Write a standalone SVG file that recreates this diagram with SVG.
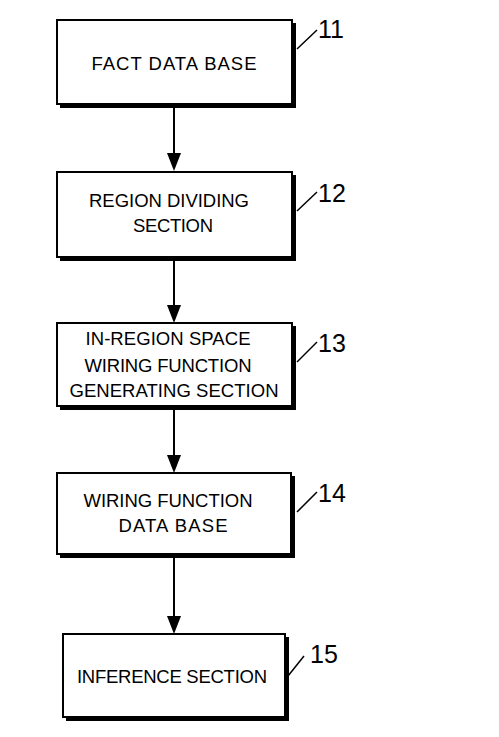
<svg xmlns="http://www.w3.org/2000/svg" width="499" height="737" viewBox="0 0 499 737">
<style>
.sh{fill:#000}
.bx{fill:#fff;stroke:#000;stroke-width:2}
.t{font-family:"Liberation Sans",Arial,sans-serif;font-size:18.5px;fill:#000;text-anchor:middle}
.n{font-family:"Liberation Sans",Arial,sans-serif;font-size:25px;fill:#000}
.ld{stroke:#000;stroke-width:1.5;fill:none}
.ar{stroke:#000;stroke-width:2;fill:none}
.hd{fill:#000}
</style>
<rect width="499" height="737" fill="#fff"/>
<g id="connectors">
<line class="ar" x1="174" y1="107" x2="174" y2="153"/>
<path class="hd" d="M167,153 L181,153 L174,171 Z"/>
<line class="ar" x1="174" y1="260" x2="174" y2="305"/>
<path class="hd" d="M167,305 L181,305 L174,323 Z"/>
<line class="ar" x1="174" y1="410" x2="174" y2="455"/>
<path class="hd" d="M167,455 L181,455 L174,473 Z"/>
<line class="ar" x1="174" y1="558" x2="174" y2="616"/>
<path class="hd" d="M167,616 L181,616 L174,634 Z"/>
</g>
<g id="node11">
<rect class="sh" x="60" y="23" width="236" height="85"/>
<rect class="bx" x="57" y="20" width="235" height="84"/>
<text class="t" x="174" y="70" textLength="165" lengthAdjust="spacing">FACT DATA BASE</text>
<line class="ld" x1="297" y1="49" x2="317" y2="30"/>
<text class="n" x="318" y="38">11</text>
</g>
<g id="node12">
<rect class="sh" x="60" y="175" width="236" height="86"/>
<rect class="bx" x="57" y="172" width="235" height="85"/>
<text class="t" x="169" y="207" textLength="160" lengthAdjust="spacing">REGION DIVIDING</text>
<text class="t" x="173" y="232" textLength="80" lengthAdjust="spacing">SECTION</text>
<line class="ld" x1="297" y1="211" x2="317" y2="192"/>
<text class="n" x="318" y="202">12</text>
</g>
<g id="node13">
<rect class="sh" x="60" y="326" width="236" height="84"/>
<rect class="bx" x="57" y="323" width="235" height="83"/>
<text class="t" x="168" y="345" textLength="165" lengthAdjust="spacing">IN-REGION SPACE</text>
<text class="t" x="168" y="372" textLength="167" lengthAdjust="spacing">WIRING FUNCTION</text>
<text class="t" x="174" y="397" textLength="209" lengthAdjust="spacing">GENERATING SECTION</text>
<line class="ld" x1="297" y1="362" x2="317" y2="342"/>
<text class="n" x="318" y="352">13</text>
</g>
<g id="node14">
<rect class="sh" x="60" y="476" width="235" height="82"/>
<rect class="bx" x="57" y="473" width="234" height="81"/>
<text class="t" x="168" y="507" textLength="169" lengthAdjust="spacing">WIRING FUNCTION</text>
<text class="t" x="173" y="532" textLength="109" lengthAdjust="spacing">DATA BASE</text>
<line class="ld" x1="297" y1="512" x2="317" y2="492"/>
<text class="n" x="318" y="502">14</text>
</g>
<g id="node15">
<rect class="sh" x="66" y="637" width="223" height="84"/>
<rect class="bx" x="63" y="634" width="222" height="83"/>
<text class="t" x="172" y="683" textLength="190" lengthAdjust="spacing">INFERENCE SECTION</text>
<line class="ld" x1="288" y1="676" x2="304" y2="656"/>
<text class="n" x="310" y="663">15</text>
</g>
</svg>
